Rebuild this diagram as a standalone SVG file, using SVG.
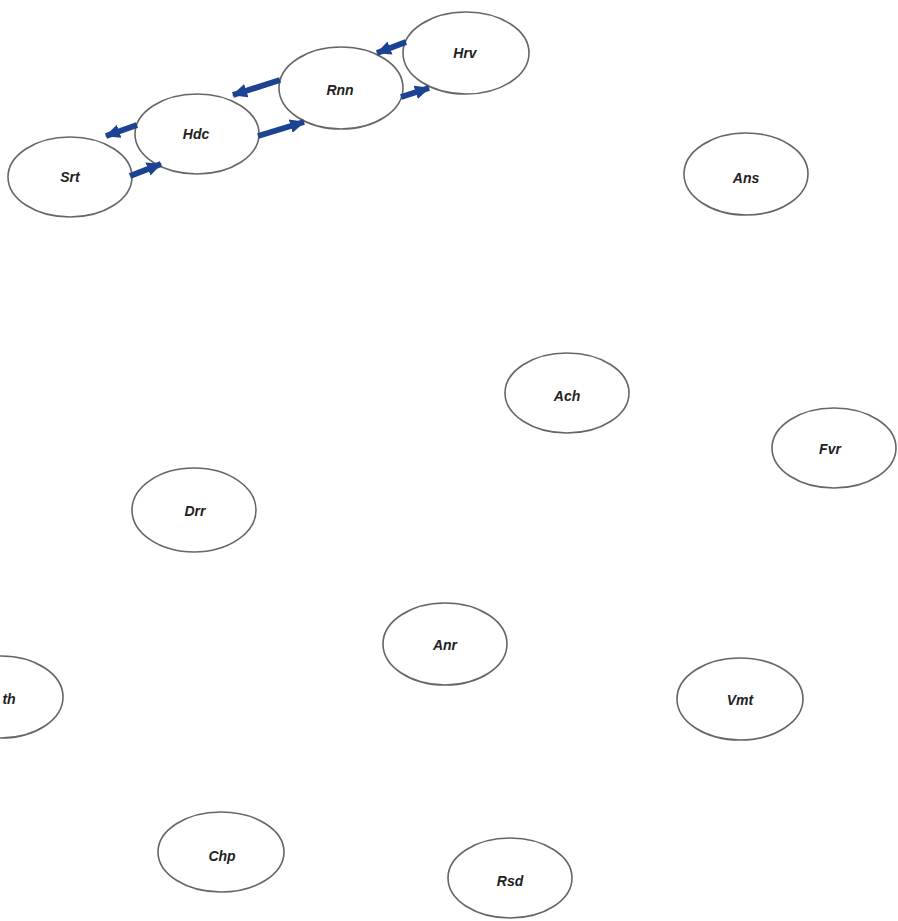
<svg xmlns="http://www.w3.org/2000/svg" width="898" height="921" viewBox="0 0 898 921">
<defs>
<style>
.n ellipse{fill:#fff;stroke:#666;stroke-width:1.6}
.n text{font-family:"Liberation Sans",Arial,sans-serif;font-size:14px;font-style:italic;font-weight:bold;fill:#222;text-anchor:middle;dominant-baseline:central}
.e line{stroke:#1c4391;stroke-width:6;marker-end:url(#ah)}
</style>
<marker id="ah" markerUnits="userSpaceOnUse" markerWidth="16" markerHeight="14" refX="14" refY="7" orient="auto">
<path d="M0,0 L15,7 L0,14 Z" fill="#1c4391"/>
</marker>
</defs>
<rect width="898" height="921" fill="#fff"/>
<g id="Srt" class="n"><ellipse cx="70" cy="177" rx="62" ry="40"/><text x="70" y="177">Srt</text></g>
<g id="Hdc" class="n"><ellipse cx="197" cy="134" rx="62" ry="40"/><text x="196" y="134">Hdc</text></g>
<g id="Rnn" class="n"><ellipse cx="341" cy="88" rx="62" ry="41"/><text x="340" y="90">Rnn</text></g>
<g id="Hrv" class="n"><ellipse cx="466" cy="53" rx="63" ry="41"/><text x="465" y="53">Hrv</text></g>
<g id="Ans" class="n"><ellipse cx="746" cy="174" rx="62" ry="41"/><text x="746" y="178">Ans</text></g>
<g id="Ach" class="n"><ellipse cx="567" cy="393" rx="62" ry="40"/><text x="567" y="396">Ach</text></g>
<g id="Fvr" class="n"><ellipse cx="834" cy="448" rx="62" ry="40"/><text x="830" y="449">Fvr</text></g>
<g id="Drr" class="n"><ellipse cx="194" cy="510" rx="62" ry="42"/><text x="195" y="511">Drr</text></g>
<g id="Anr" class="n"><ellipse cx="445" cy="644" rx="62" ry="41"/><text x="445" y="645">Anr</text></g>
<g id="Vmt" class="n"><ellipse cx="740" cy="699" rx="63" ry="41"/><text x="740" y="700">Vmt</text></g>
<g id="th" class="n"><ellipse cx="1" cy="697" rx="62" ry="41"/><text x="9" y="699">th</text></g>
<g id="Chp" class="n"><ellipse cx="221" cy="852" rx="63" ry="40"/><text x="222" y="856">Chp</text></g>
<g id="Rsd" class="n"><ellipse cx="510" cy="878" rx="62" ry="40"/><text x="510" y="881">Rsd</text></g>
<g id="edges" class="e">
<line x1="137" y1="125" x2="106" y2="136"/>
<line x1="130" y1="176" x2="161" y2="164"/>
<line x1="280" y1="80" x2="233" y2="95"/>
<line x1="258" y1="136" x2="304" y2="122"/>
<line x1="406" y1="42" x2="377" y2="53"/>
<line x1="401" y1="97" x2="429" y2="88"/>
</g>
</svg>
